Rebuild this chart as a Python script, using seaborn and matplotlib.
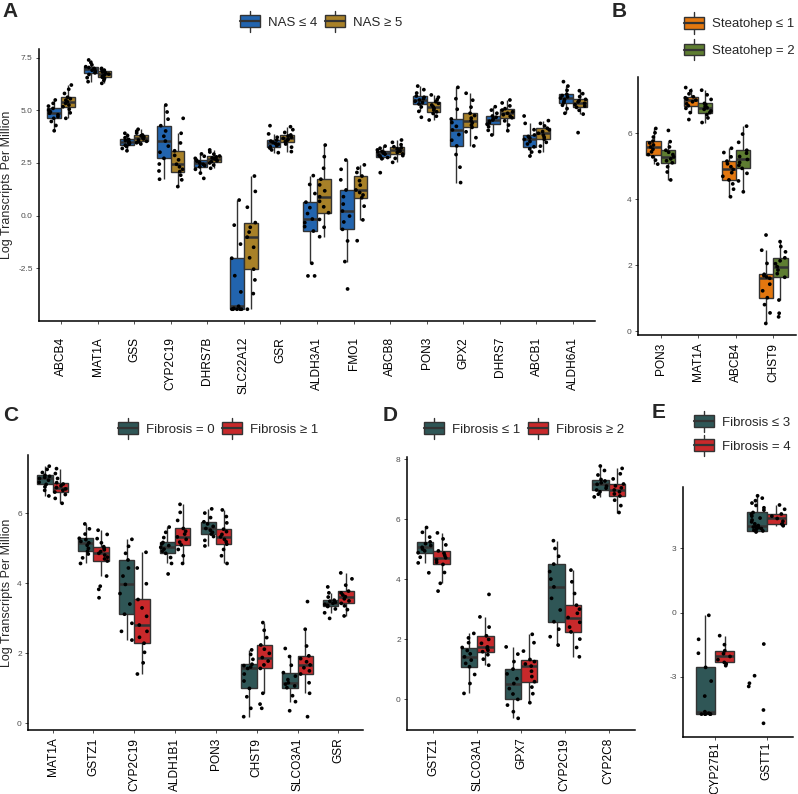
import numpy as np
import pandas as pd
import matplotlib
matplotlib.use('Agg')
import matplotlib.pyplot as plt
import seaborn as sns
from matplotlib.legend_handler import HandlerBase
from matplotlib.patches import Rectangle, Patch
from matplotlib.lines import Line2D

# ---------------- Panel A : NAS ----------------
a_genes = ['ABCB4', 'MAT1A', 'GSS', 'CYP2C19', 'DHRS7B', 'SLC22A12', 'GSR', 'ALDH3A1',
           'FMO1', 'ABCB8', 'PON3', 'GPX2', 'DHRS7', 'ABCB1', 'ALDH6A1']
a_labels = ['NAS \u2264 4', 'NAS \u2265 5']
a_nas_low = [
    [4.03, 4.28, 4.47, 4.62, 4.70, 4.79, 4.86, 4.93, 5.01, 5.09, 5.20, 5.33, 5.49],   # ABCB4
    [6.36, 6.55, 6.70, 6.78, 6.84, 6.90, 6.95, 6.99, 7.03, 7.07, 7.16, 7.27, 7.39],   # MAT1A
    [3.08, 3.19, 3.28, 3.34, 3.39, 3.44, 3.48, 3.52, 3.57, 3.62, 3.70, 3.80, 3.91],   # GSS
    [1.73, 2.12, 2.45, 2.72, 3.01, 3.30, 3.54, 3.77, 4.02, 4.27, 4.58, 4.92, 5.25],   # CYP2C19
    [1.77, 2.02, 2.20, 2.32, 2.38, 2.44, 2.49, 2.54, 2.59, 2.64, 2.72, 2.82, 2.93],   # DHRS7B
    [-4.44, -4.44, -4.44, -4.44, -4.44, -4.40, -4.30, -3.62, -2.85, -2.02, -1.35, -0.45, 0.74],  # SLC22A12
    [2.99, 3.12, 3.21, 3.27, 3.33, 3.38, 3.43, 3.48, 3.54, 3.59, 3.72, 3.88, 4.27],   # GSR
    [-2.86, -2.86, -2.26, -0.73, -0.52, -0.33, -0.16, 0.10, 0.38, 0.64, 1.05, 1.48, 1.90],  # ALDH3A1
    [-3.48, -2.18, -1.20, -0.65, -0.30, -0.02, 0.22, 0.55, 0.90, 1.22, 1.70, 2.20, 2.64],  # FMO1
    [2.04, 2.70, 2.76, 2.80, 2.86, 2.92, 2.97, 3.00, 3.03, 3.05, 3.12, 3.20, 3.30],   # ABCB8
    [4.67, 4.95, 5.16, 5.30, 5.37, 5.43, 5.49, 5.55, 5.62, 5.68, 5.82, 5.98, 6.15],   # PON3
    [1.57, 2.30, 2.90, 3.31, 3.58, 3.85, 4.07, 4.24, 4.42, 4.59, 5.05, 5.55, 6.09],   # GPX2
    [3.83, 4.05, 4.22, 4.34, 4.41, 4.48, 4.54, 4.60, 4.67, 4.73, 4.86, 5.01, 5.17],   # DHRS7
    [2.83, 3.02, 3.17, 3.27, 3.40, 3.52, 3.62, 3.69, 3.76, 3.83, 4.08, 4.38, 4.73],   # ABCB1
    [4.86, 5.08, 5.24, 5.36, 5.43, 5.51, 5.58, 5.64, 5.70, 5.76, 5.95, 6.15, 6.36],   # ALDH6A1
]
a_nas_high = [
    [4.62, 4.88, 5.05, 5.17, 5.25, 5.33, 5.41, 5.48, 5.55, 5.62, 5.80, 6.00, 6.20],
    [6.28, 6.42, 6.51, 6.57, 6.62, 6.67, 6.72, 6.77, 6.82, 6.86, 6.90, 6.95, 6.99],
    [3.40, 3.46, 3.50, 3.53, 3.59, 3.64, 3.69, 3.74, 3.79, 3.83, 3.92, 4.01, 4.10],
    [1.38, 1.70, 1.92, 2.09, 2.20, 2.32, 2.44, 2.65, 2.86, 3.08, 3.45, 3.91, 4.62],
    [2.25, 2.40, 2.50, 2.56, 2.61, 2.66, 2.70, 2.74, 2.79, 2.83, 2.92, 3.02, 3.12],
    [-4.44, -3.70, -3.05, -2.54, -2.00, -1.50, -1.02, -0.78, -0.55, -0.33, 0.40, 1.15, 1.88],
    [3.04, 3.25, 3.40, 3.51, 3.56, 3.62, 3.67, 3.72, 3.78, 3.83, 3.95, 4.08, 4.22],
    [-1.00, -0.55, -0.18, 0.14, 0.42, 0.68, 0.90, 1.18, 1.46, 1.73, 2.25, 2.80, 3.35],
    [-1.19, -0.20, 0.45, 0.85, 0.98, 1.10, 1.22, 1.45, 1.66, 1.88, 2.05, 2.25, 2.41],
    [2.53, 2.72, 2.85, 2.93, 3.00, 3.06, 3.12, 3.17, 3.22, 3.27, 3.37, 3.48, 3.59],
    [4.54, 4.72, 4.85, 4.93, 5.01, 5.09, 5.17, 5.25, 5.33, 5.41, 5.51, 5.62, 5.73],
    [3.31, 3.70, 3.98, 4.19, 4.30, 4.41, 4.51, 4.63, 4.75, 4.86, 5.15, 5.48, 5.81],
    [4.03, 4.30, 4.50, 4.65, 4.72, 4.79, 4.86, 4.93, 5.01, 5.08, 5.21, 5.35, 5.49],
    [3.04, 3.30, 3.48, 3.62, 3.72, 3.82, 3.91, 3.99, 4.07, 4.15, 4.26, 4.38, 4.51],
    [3.94, 4.82, 5.00, 5.14, 5.20, 5.27, 5.33, 5.40, 5.46, 5.52, 5.65, 5.79, 5.93],
]

# ---------------- Panel B : steatohepatitis ----------------
b_genes = ['PON3', 'MAT1A', 'ABCB4', 'CHST9']
b_labels = ['Steatohep \u2264 1', 'Steatohep = 2']
b_steato_low = [
    [5.06, 5.18, 5.28, 5.35, 5.43, 5.51, 5.58, 5.64, 5.70, 5.76, 5.88, 6.01, 6.14],
    [6.41, 6.62, 6.75, 6.83, 6.89, 6.95, 7.00, 7.03, 7.07, 7.10, 7.19, 7.28, 7.38],
    [4.07, 4.30, 4.46, 4.58, 4.69, 4.80, 4.90, 4.98, 5.07, 5.15, 5.28, 5.41, 5.54],
    [0.23, 0.55, 0.80, 1.01, 1.22, 1.42, 1.60, 1.64, 1.68, 1.72, 2.05, 2.45, 2.91],
]
b_steato_high = [
    [4.58, 4.82, 4.98, 5.10, 5.16, 5.22, 5.28, 5.35, 5.42, 5.48, 5.58, 5.74, 6.08],
    [6.32, 6.46, 6.56, 6.62, 6.67, 6.72, 6.77, 6.81, 6.86, 6.90, 7.02, 7.16, 7.30],
    [4.22, 4.55, 4.78, 4.93, 5.02, 5.11, 5.20, 5.29, 5.39, 5.48, 5.72, 5.97, 6.21],
    [0.43, 0.54, 0.94, 1.63, 1.74, 1.85, 1.95, 2.04, 2.13, 2.22, 2.40, 2.56, 2.71],
]

# ---------------- Panel C : fibrosis 0 vs >=1 ----------------
c_genes = ['MAT1A', 'GSTZ1', 'CYP2C19', 'ALDH1B1', 'PON3', 'CHST9', 'SLCO3A1', 'GSR']
c_labels = ['Fibrosis = 0', 'Fibrosis \u2265 1']
c_fib0 = [
    [6.49, 6.65, 6.75, 6.82, 6.88, 6.94, 6.99, 7.02, 7.05, 7.08, 7.16, 7.25, 7.34],
    [4.56, 4.72, 4.83, 4.91, 4.99, 5.08, 5.15, 5.19, 5.24, 5.28, 5.40, 5.55, 5.69],
    [2.37, 2.62, 2.85, 3.11, 3.40, 3.70, 3.96, 4.20, 4.43, 4.66, 4.85, 5.05, 5.25],
    [4.26, 4.56, 4.73, 4.85, 4.91, 4.97, 5.02, 5.07, 5.12, 5.16, 5.30, 5.45, 5.60],
    [5.06, 5.22, 5.33, 5.40, 5.45, 5.51, 5.56, 5.62, 5.69, 5.75, 5.87, 6.00, 6.12],
    [0.18, 0.42, 0.75, 0.99, 1.20, 1.40, 1.56, 1.60, 1.64, 1.68, 1.82, 1.96, 2.09],
    [0.35, 0.61, 0.78, 1.01, 1.06, 1.11, 1.15, 1.24, 1.34, 1.44, 1.65, 1.90, 2.13],
    [2.99, 3.15, 3.26, 3.33, 3.36, 3.39, 3.42, 3.45, 3.48, 3.51, 3.60, 3.72, 3.89],
]
c_fib1 = [
    [6.28, 6.42, 6.53, 6.60, 6.65, 6.69, 6.73, 6.78, 6.83, 6.87, 6.99, 7.13, 7.27],
    [3.58, 3.82, 3.91, 4.20, 4.63, 4.69, 4.74, 4.80, 4.85, 4.90, 4.95, 5.00, 5.04, 5.15, 5.27, 5.39, 5.51],
    [1.40, 1.72, 2.02, 2.28, 2.45, 2.62, 2.80, 3.05, 3.29, 3.53, 3.98, 4.43, 4.88],
    [4.56, 4.78, 4.96, 5.09, 5.17, 5.25, 5.32, 5.40, 5.48, 5.56, 5.79, 6.02, 6.25],
    [4.56, 4.78, 4.96, 5.11, 5.18, 5.25, 5.32, 5.39, 5.47, 5.54, 5.72, 5.90, 6.09],
    [0.42, 0.54, 0.85, 1.56, 1.66, 1.77, 1.87, 1.99, 2.11, 2.23, 2.44, 2.65, 2.87],
    [0.18, 0.85, 1.15, 1.40, 1.49, 1.58, 1.66, 1.75, 1.84, 1.92, 2.20, 2.68, 3.47],
    [3.06, 3.24, 3.35, 3.42, 3.49, 3.55, 3.61, 3.66, 3.72, 3.77, 3.94, 4.12, 4.29],
]

# ---------------- Panel D : fibrosis <=1 vs >=2 ----------------
d_genes = ['GSTZ1', 'SLCO3A1', 'GPX7', 'CYP2C19', 'CYP2C8']
d_labels = ['Fibrosis \u2264 1', 'Fibrosis \u2265 2']
d_fib_low = [
    [4.21, 4.54, 4.73, 4.88, 4.94, 5.00, 5.06, 5.12, 5.18, 5.24, 5.40, 5.56, 5.72],
    [0.19, 0.52, 0.82, 1.08, 1.19, 1.30, 1.41, 1.51, 1.62, 1.72, 1.88, 2.04, 2.19],
    [-0.64, -0.42, -0.20, -0.01, 0.17, 0.35, 0.52, 0.68, 0.84, 1.00, 1.25, 1.50, 1.74],
    [1.80, 2.08, 2.33, 2.58, 2.97, 3.36, 3.74, 4.00, 4.25, 4.50, 4.76, 5.02, 5.28],
    [6.74, 6.83, 6.91, 6.97, 7.03, 7.10, 7.16, 7.21, 7.27, 7.32, 7.47, 7.62, 7.77],
]
d_fib_high = [
    [3.60, 3.86, 4.22, 4.49, 4.56, 4.64, 4.71, 4.79, 4.86, 4.94, 5.14, 5.34, 5.54],
    [1.13, 1.33, 1.48, 1.58, 1.63, 1.69, 1.74, 1.86, 1.99, 2.11, 2.40, 2.74, 3.49],
    [-0.12, 0.18, 0.40, 0.58, 0.75, 0.93, 1.10, 1.17, 1.25, 1.32, 1.60, 1.88, 2.16],
    [1.41, 1.72, 2.00, 2.24, 2.40, 2.56, 2.72, 2.86, 3.00, 3.13, 3.52, 3.91, 4.30],
    [6.22, 6.45, 6.63, 6.77, 6.84, 6.91, 6.97, 7.04, 7.11, 7.17, 7.34, 7.51, 7.69],
]

# ---------------- Panel E : fibrosis <=3 vs 4 ----------------
e_genes = ['CYP27B1', 'GSTT1']
e_labels = ['Fibrosis \u2264 3', 'Fibrosis = 4']
e_fib_low = [
    [-4.74, -4.74, -4.74, -4.74, -4.74, -4.70, -4.63, -3.90, -3.20, -2.56, -1.90, -1.25, -0.13],
    [-5.17, -4.55, -3.45, -3.30, -2.95, -1.47, 3.76, 3.81, 3.84, 3.88, 3.92, 3.96, 3.99, 4.02, 4.06,
     4.14, 4.23, 4.32, 4.41, 4.50, 4.59, 4.67, 4.78, 4.89, 5.00, 5.11, 5.22, 5.34, 5.45],
]
e_fib_high = [
    [-2.48, -2.40, -2.33, -2.20, -2.05, -1.92, -1.78, -1.50, -1.08],
    [4.05, 4.09, 4.13, 4.26, 4.39, 4.50, 4.60, 4.82, 5.02],
]

W, H = 798, 794
EDGE = '#333333'

sns.set_style('ticks')
plt.rcParams['font.family'] = ['Liberation Sans', 'DejaVu Sans']
np.random.seed(3)


class BoxKey(HandlerBase):
    # ggplot-like boxplot legend key
    def create_artists(self, legend, orig_handle, xdescent, ydescent, width, height, fontsize, trans):
        x0, y0 = -xdescent, -ydescent
        cx = x0 + width / 2
        whisk = Line2D([cx, cx], [y0 - 0.4 * height, y0 + 1.4 * height], color=EDGE, lw=1, transform=trans)
        box = Rectangle((x0, y0), width, height, facecolor=orig_handle.get_facecolor(),
                        edgecolor=EDGE, lw=1, transform=trans)
        med = Line2D([x0, x0 + width], [y0 + height / 2] * 2, color=EDGE, lw=1.6, transform=trans)
        return [whisk, box, med]


def to_frame(genes, labels, groups):
    rows = []
    for lab, vals in zip(labels, groups):
        for g, v in zip(genes, vals):
            rows += [(g, lab, x) for x in v]
    return pd.DataFrame(rows, columns=['gene', 'group', 'tpm'])


def px_rect(x0, y0, x1, y1):
    return [x0 / W, 1 - y1 / H, (x1 - x0) / W, (y1 - y0) / H]


def panel(fig, box, genes, labels, groups, colors, ylim, yticks, yfmt, xlim,
          leg_xy, ncol, spacing, ylabel=False, xpad=3):
    ax = fig.add_axes(px_rect(*box))
    df = to_frame(genes, labels, groups)
    sns.boxplot(data=df, x='gene', y='tpm', hue='group', order=genes, hue_order=labels,
                palette=colors, width=0.75, gap=0, saturation=1, linewidth=1, linecolor=EDGE,
                showfliers=False, showcaps=False, medianprops=dict(linewidth=1.8),
                legend=False, ax=ax)
    sns.stripplot(data=df, x='gene', y='tpm', hue='group', order=genes, hue_order=labels,
                  palette=['black', 'black'], dodge=True, jitter=0.3, size=2.7,
                  linewidth=0, legend=False, ax=ax)
    ax.set_xlim(*xlim)
    ax.set_ylim(*ylim)
    ax.set_yticks(yticks)
    ax.set_yticklabels([yfmt.format(t) for t in yticks])
    ax.set_xlabel('')
    ax.set_ylabel('Log Transcripts Per Million' if ylabel else '', fontsize=9)
    if ylabel:
        ax.yaxis.set_label_coords(-(box[0] - 13) / (box[2] - box[0]), 0.5)
    for s in ['top', 'right']:
        ax.spines[s].set_visible(False)
    for s in ['left', 'bottom']:
        ax.spines[s].set_linewidth(1.1)
        ax.spines[s].set_color('black')
    ax.tick_params(axis='y', labelsize=6, labelcolor='#4d4d4d', length=2.5, width=0.6, color='#333333', pad=2)
    ax.tick_params(axis='x', labelsize=8.6, labelcolor='black', length=2.5, width=0.6, color='#333333',
                   pad=xpad, labelrotation=90)

    handles = [Patch(facecolor=c, edgecolor=EDGE) for c in colors]
    ax.legend(handles, labels, handler_map={Patch: BoxKey()}, loc='center',
              bbox_to_anchor=(leg_xy[0] / W, 1 - leg_xy[1] / H), bbox_transform=fig.transFigure,
              ncol=ncol, frameon=False, fontsize=9.5, handlelength=1.55, handleheight=1.0,
              handletextpad=0.6, columnspacing=0.55, labelspacing=spacing, borderpad=0)
    return ax


fig = plt.figure(figsize=(W / 100, H / 100), dpi=100)

panel(fig, (39, 49, 595, 321), a_genes, a_labels, [a_nas_low, a_nas_high],
      ['#2264AE', '#A88128'], (-5.0, 7.91), [-2.5, 0, 2.5, 5.0, 7.5], '{:.1f}', (-0.6, 14.6),
      (321, 22), 2, 0.5, ylabel=True, xpad=9)
panel(fig, (638, 77, 796, 335), b_genes, b_labels, [b_steato_low, b_steato_high],
      ['#E3770F', '#5E7D31'], (-0.12, 7.7), [0, 2, 4, 6], '{:g}', (-0.6, 3.6),
      (739, 37), 1, 1.0)
panel(fig, (28, 455, 363, 730), c_genes, c_labels, [c_fib0, c_fib1],
      ['#2F5656', '#C8292B'], (-0.2, 7.66), [0, 2, 4, 6], '{:g}', (-0.6, 7.6),
      (218, 429), 2, 0.5, ylabel=True)
panel(fig, (407, 457, 635, 730), d_genes, d_labels, [d_fib_low, d_fib_high],
      ['#2F5656', '#C8292B'], (-1.03, 8.07), [0, 2, 4, 6, 8], '{:g}', (-0.6, 4.6),
      (524, 429), 2, 0.5)
panel(fig, (683, 487, 793, 737), e_genes, e_labels, [e_fib_low, e_fib_high],
      ['#2F5656', '#C8292B'], (-5.81, 5.86), [-3, 0, 3], '{:g}', (-0.62, 1.51),
      (742, 434), 1, 0.8, xpad=1)

for letter, x, y in [('A', 2, 2), ('B', 612, 2), ('C', 3, 406), ('D', 383, 406), ('E', 652, 403)]:
    fig.text(x / W, 1 - y / H, letter, fontsize=15, fontweight='bold', ha='left', va='top')

fig.savefig('out.png', dpi=100)
